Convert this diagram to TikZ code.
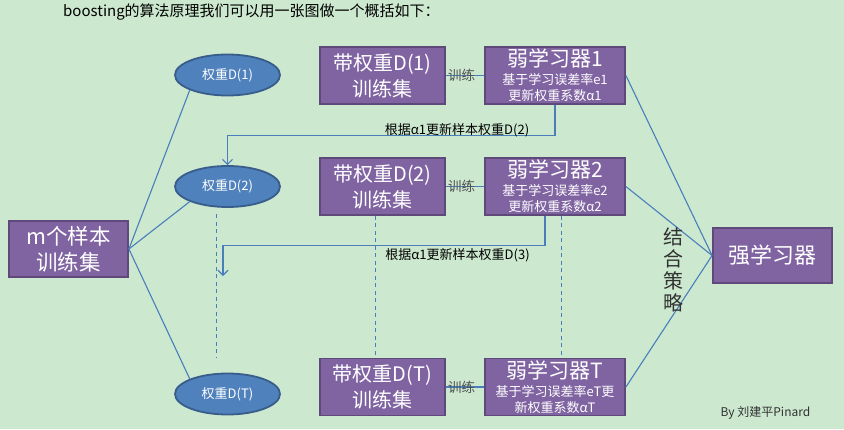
\documentclass[tikz,border=0pt]{standalone}
\usepackage{fontspec}
\setmainfont{Noto Sans CJK SC}
\usetikzlibrary{shapes.geometric,arrows.meta,calc}
\definecolor{bg}{RGB}{204,232,207}
\definecolor{pfill}{RGB}{128,100,162}
\definecolor{pdraw}{RGB}{94,73,122}
\definecolor{bfill}{RGB}{79,129,189}
\definecolor{bdraw}{RGB}{56,93,138}
\definecolor{lnc}{RGB}{74,126,187}
\definecolor{gtxt}{RGB}{80,80,80}
\newcommand{\wt}{\fontsize{21}{22}\selectfont}
\begin{document}
\begin{tikzpicture}[x=1pt,y=-1pt,
  pbox/.style={rectangle,draw=pdraw,fill=pfill,line width=1.8pt,text=white,inner sep=0pt,align=center},
  trainbox/.style={pbox,minimum width=125pt,minimum height=57pt,font=\fontsize{20}{26}\selectfont},
  weakbox/.style={pbox,minimum width=140pt,minimum height=57pt,font=\fontsize{13}{16}\selectfont},
  ell/.style={ellipse,draw=bdraw,fill=bfill,line width=1.8pt,minimum width=105pt,minimum height=41pt,text=white,inner sep=0pt,font=\fontsize{13}{15}\selectfont},
  conn/.style={draw=lnc,line width=1.1pt},
  arr/.style={conn,-{Straight Barb[length=5pt,width=10pt]}},
  dsh/.style={conn,dash pattern=on 4pt off 3.5pt},
  trainlbl/.style={text=gtxt,inner sep=0pt,font=\fontsize{13.5}{15}\selectfont},
  updlbl/.style={text=black,inner sep=0pt,font=\fontsize{13}{15}\selectfont}
]
\fill[bg] (0,0) rectangle (844,429);
\useasboundingbox (0,0) rectangle (844,429);

% title
\node[anchor=west,inner sep=0pt,font=\fontsize{15}{18}\selectfont] (title) at (63,12.5) {boosting的算法原理我们可以用一张图做一个概括如下：};

% nodes
\node[pbox,minimum width=119pt,minimum height=56pt,font=\fontsize{21.5}{26}\selectfont] (m) at (68.5,249) {m个样本\\训练集};
\node[ell] (e1) at (227.5,75) {权重D(1)};
\node[ell] (e2) at (227.5,186.5) {权重D(2)};
\node[ell] (eT) at (227.5,394) {权重D(T)};

\node[trainbox] (b1) at (382.5,75.5) {带权重D(1)\\训练集};
\node[trainbox] (b2) at (382.5,186.5) {带权重D(2)\\训练集};
\node[trainbox] (bT) at (382.5,387) {带权重D(T)\\训练集};

\node[weakbox] (l1) at (555,75.5) {{\wt 弱学习器1}\\[2pt]基于学习误差率e1\\更新权重系数α1};
\node[weakbox] (l2) at (555,186.5) {{\wt 弱学习器2}\\[2pt]基于学习误差率e2\\更新权重系数α2};
\node[weakbox] (lT) at (555,387) {{\wt 弱学习器T}\\[2pt]基于学习误差率eT更\\新权重系数αT};

\node[pbox,minimum width=119pt,minimum height=55pt,font=\fontsize{22}{26}\selectfont] (s) at (772.5,255.5) {强学习器};

% connectors from sample set
\draw[conn] (m.east) -- (e1.south west);
\draw[conn] (m.east) -- (e2.south west);
\draw[conn] (m.east) -- (eT.north west);

% training links
\draw[conn] (b1.east) -- node[trainlbl,pos=0.41] {训练} (l1.west);
\draw[conn] (b2.east) -- node[trainlbl,pos=0.41] {训练} (l2.west);
\draw[conn] (bT.east) -- node[trainlbl,pos=0.41] {训练} (lT.west);

% to strong learner
\draw[conn] (l1.east) -- (s.west);
\draw[conn] (l2.east) -- (s.west);
\draw[conn] (lT.east) -- (s.west);

% update arrows
\draw[arr] (l1.south) -- ++(0,31) -| (e2.north);
\node[updlbl] (u1) at (457,130) {根据α1更新样本权重D(2)};
\coordinate (a3) at (223,276);
\draw[arr] ([xshift=-10pt]l2.south) -- ++(0,30) -| (a3);
\node[updlbl] (u2) at (457.5,255.5) {根据α1更新样本权重D(3)};

% dashed continuation lines
\coordinate (d1a) at (216.5,214);
\coordinate (d1b) at (216.5,358);
\draw[dsh] (d1a) -- (d1b);
\draw[dsh] ([xshift=-7pt]b2.south) -- ([xshift=-7pt]bT.north);
\draw[dsh] ([xshift=6.5pt]l2.south) -- ([xshift=6.5pt]lT.north);

% combination strategy
\node[align=center,inner sep=0pt,text={rgb,255:red,50;green,50;blue,50},font=\fontsize{20}{22}\selectfont] (comb) at (673,270) {结\\合\\策\\略};

% signature
\node[inner sep=0pt,text={rgb,255:red,50;green,50;blue,50},font=\fontsize{12}{14}\selectfont] (sig) at (765.5,413) {By 刘建平Pinard};
\end{tikzpicture}
\end{document}
